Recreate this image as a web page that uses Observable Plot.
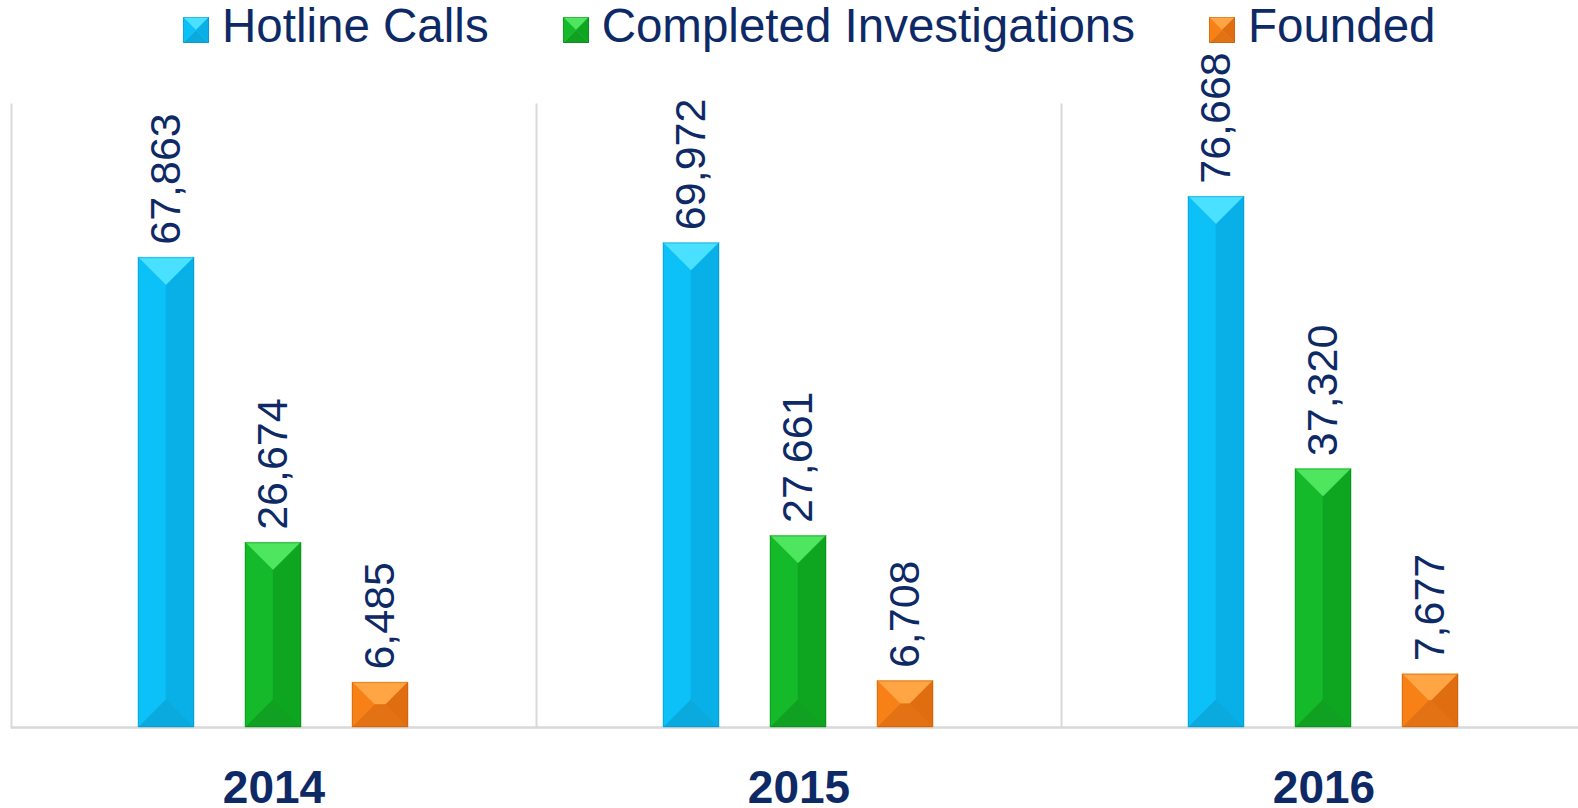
<!DOCTYPE html>
<html>
<head>
<meta charset="utf-8">
<script src="https://cdn.jsdelivr.net/npm/d3@7"></script>
<script src="https://cdn.jsdelivr.net/npm/@observablehq/plot@0.6"></script>
<style>
  html, body { margin: 0; padding: 0; background: #fff; overflow: hidden; width: 1578px; height: 808px; }
  #legend { position: relative; height: 58px; line-height: 51px; font-family: "Liberation Sans", Arial, sans-serif; font-size: 47.5px; color: #0e2a66; white-space: nowrap; padding-left: 183px; box-sizing: border-box; }
  #legend .item { display: inline-block; margin-right: 74px; }
  #legend svg { display: inline-block; vertical-align: -1px; margin-right: 13px; }
  #chart { width: 1586px; }
  #chart > svg { max-width: none !important; display: block; }
  g[aria-label="year-label"] text { letter-spacing: 3px; }
</style>
</head>
<body>
<div id="legend"></div>
<div id="chart"></div>
<script>
// ---- data ----
const years = ["2014", "2015", "2016"];
const seriesNames = ["Hotline Calls", "Completed Investigations", "Founded"];
const hotlineCalls = [67863, 69972, 76668];
const completedInvestigations = [26674, 27661, 37320];
const founded = [6485, 6708, 7677];
const seriesColors = ["#0bbdf5", "#12b726", "#f47d17"];

// faces of the bevel for each series colour
const faces = {
  "#0bbdf5": {top: "#4ae0ff", left: "#0cc0f8", right: "#09b0e8", bottom: "#0aaade", center: "#0ab8f0", edge: "#0a86b8"},
  "#12b726": {top: "#4ee55f", left: "#14ba29", right: "#0ea521", bottom: "#10a123", center: "#10ad25", edge: "#0a7a18"},
  "#f47d17": {top: "#ffa544", left: "#f78017", right: "#e06e11", bottom: "#e27213", center: "#ea7614", edge: "#b75a0c"}
};

const valuesBySeries = [hotlineCalls, completedInvestigations, founded];
const data = [];
years.forEach((yr, i) => {
  seriesNames.forEach((s, j) => data.push({year: yr, series: s, value: valuesBySeries[j][i]}));
});

const fmt = d3.format(",");
const navy = "#0e2a66";

const chart = Plot.plot({
  width: 1586,
  height: 750,
  marginLeft: 11,
  marginRight: 0,
  marginTop: 46,
  marginBottom: 81,
  style: {fontFamily: "'Liberation Sans', Arial, sans-serif", background: "white", overflow: "visible", maxWidth: "none"},
  fx: {domain: years, padding: 0, axis: null},
  x: {domain: seriesNames, paddingInner: 0.4766, paddingOuter: 1.19, axis: null},
  y: {domain: [0, 90000], axis: null},
  color: {domain: seriesNames, range: seriesColors},
  marks: [
    Plot.frame({anchor: "left", stroke: "#d9d9d9", strokeWidth: 2}),
    Plot.ruleY([0], {stroke: "#d9d9d9", strokeWidth: 2.5}),
    Plot.barY(data, {fx: "year", x: "series", y: "value", fill: "series"}),
    Plot.text(data, {fx: "year", x: "series", y: "value", text: d => fmt(d.value), rotate: -90,
      textAnchor: "start", dy: -13, fontSize: 43, fill: navy}),
    Plot.text(years, {fx: d => d, frameAnchor: "bottom", lineAnchor: "top", dy: 43, text: d => d,
      fontSize: 46, fontWeight: "bold", fill: navy, ariaLabel: "year-label"})
  ]
});

// bevel faces drawn over each bar rect that Plot produced
function bevel(parent, x0, y0, w, h, f) {
  const x1 = x0 + w, y1 = y0 + h, d = Math.min(w, h) / 2;
  const a = x0 + d, b = x1 - d, c = y0 + d, e = y1 - d;
  const polys = [
    [[x0, y0], [x1, y0], [b, c], [a, c], f.top],
    [[x0, y1], [x1, y1], [b, e], [a, e], f.bottom],
    [[x0, y0], [a, c], [a, e], [x0, y1], f.left],
    [[x1, y0], [b, c], [b, e], [x1, y1], f.right]
  ];
  const ns = "http://www.w3.org/2000/svg";
  const g = document.createElementNS(ns, "g");
  if (b > a && e > c) {
    const r = document.createElementNS(ns, "rect");
    r.setAttribute("x", a); r.setAttribute("y", c); r.setAttribute("width", b - a); r.setAttribute("height", e - c);
    r.setAttribute("fill", f.center); g.appendChild(r);
  }
  polys.forEach(p => {
    const poly = document.createElementNS(ns, "polygon");
    poly.setAttribute("points", p.slice(0, 4).map(q => q.join(",")).join(" "));
    poly.setAttribute("fill", p[4]);
    poly.setAttribute("stroke", p[4]);
    poly.setAttribute("stroke-width", 0.5);
    g.appendChild(poly);
  });
  const edge = document.createElementNS(ns, "rect");
  edge.setAttribute("x", x0 + 0.5); edge.setAttribute("y", y0 + 0.5);
  edge.setAttribute("width", Math.max(0, w - 1)); edge.setAttribute("height", Math.max(0, h - 1));
  edge.setAttribute("fill", "none"); edge.setAttribute("stroke", f.edge); edge.setAttribute("stroke-opacity", 0.4);
  g.appendChild(edge);
  parent.appendChild(g);
}

d3.select(chart).selectAll('g[aria-label="bar"] rect').each(function() {
  const fill = (this.getAttribute("fill") || "").toLowerCase();
  const f = faces[fill];
  if (!f) return;
  bevel(this.parentNode, +this.getAttribute("x"), +this.getAttribute("y"),
    +this.getAttribute("width"), +this.getAttribute("height"), f);
});

document.getElementById("chart").appendChild(chart);

// legend
const legend = document.getElementById("legend");
seriesNames.forEach((s, i) => {
  const item = document.createElement("span");
  item.className = "item";
  const sw = d3.create("svg").attr("width", 26).attr("height", 26);
  const f = faces[seriesColors[i]];
  const gg = sw.append("g").node();
  bevel(gg, 0, 0, 26, 26, f);
  item.appendChild(sw.node());
  item.appendChild(document.createTextNode(s));
  legend.appendChild(item);
});
</script>
</body>
</html>
